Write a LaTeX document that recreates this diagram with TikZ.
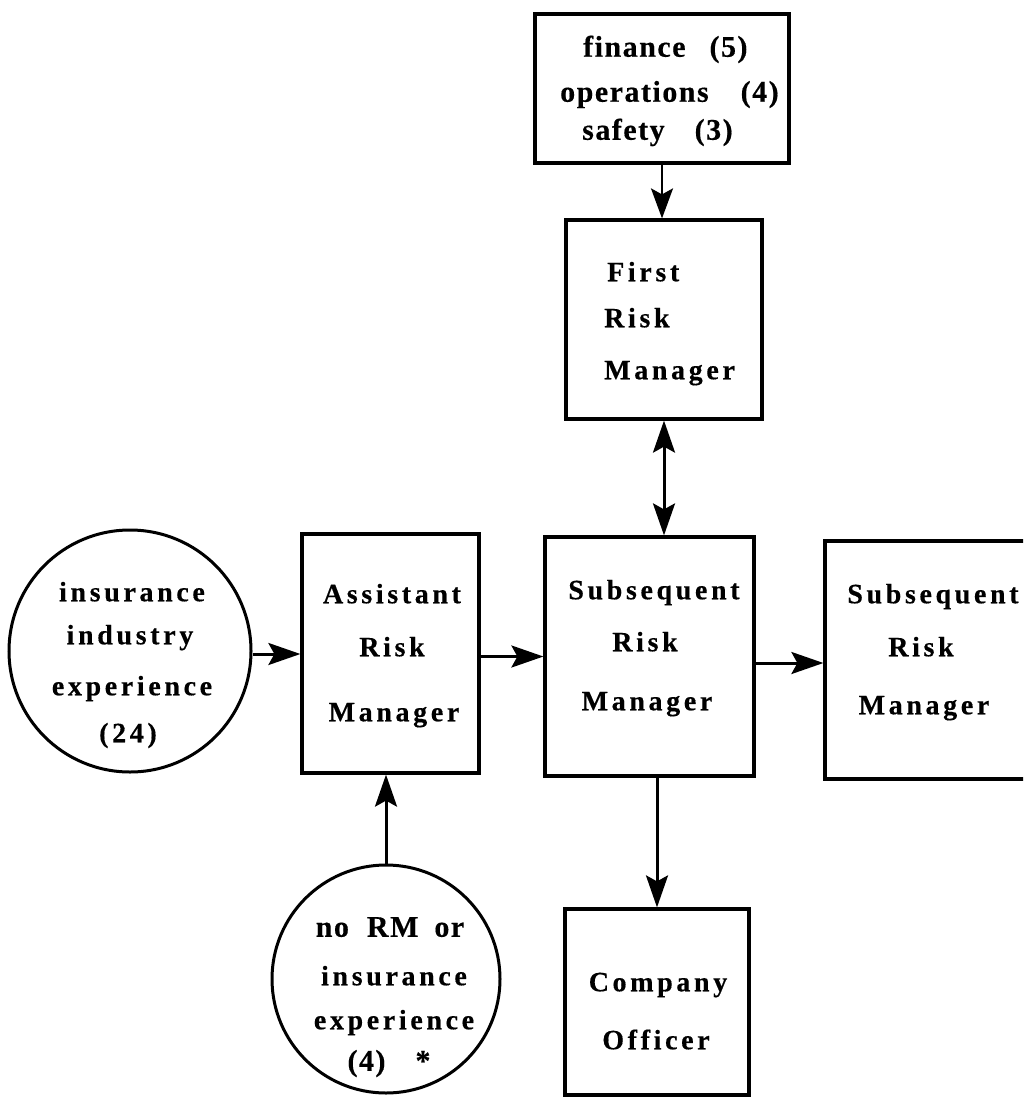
\documentclass[tikz,border=0pt]{standalone}
\usepackage{fontspec}
\setmainfont{Liberation Serif}
\newfontfamily\spfont[LetterSpace=13,FakeBold=0.4]{Liberation Serif}
\newfontfamily\tpfont[LetterSpace=5,FakeBold=0.4]{Liberation Serif}
\usetikzlibrary{arrows.meta}
\begin{document}
\begin{tikzpicture}[x=1pt,y=-1pt,
  box/.style={draw, line width=3.2pt, inner sep=0pt},
  ring/.style={draw, circle, line width=3pt, inner sep=0pt},
  lbl/.style={font=\spfont\bfseries\fontsize{28}{28}\selectfont, text height=18.5pt, text depth=0pt, inner sep=0pt},
  tlbl/.style={font=\tpfont\bfseries\fontsize{30}{30}\selectfont, text height=19.5pt, text depth=0pt, inner sep=0pt},
  arr/.style={line width=3pt, -{Stealth[length=32pt,width=22pt,inset=6pt]}},
  darr/.style={line width=3pt, {Stealth[length=32pt,width=22pt,inset=6pt]}-{Stealth[length=32pt,width=22pt,inset=6pt]}},
  thinarr/.style={line width=2.2pt, -{Stealth[length=30pt,width=22pt,inset=6pt]}}]
\useasboundingbox (0,0) rectangle (1023,1097);
\clip (0,0) rectangle (1023,1097);

% boxes
\node[box, minimum width=254pt, minimum height=149pt] (tb) at (662,88.5) {};
\node[box, minimum width=196pt, minimum height=199pt] (fr) at (664,319.5) {};
\node[box, minimum width=177pt, minimum height=239pt] (ar) at (390.5,653.5) {};
\node[box, minimum width=209pt, minimum height=239pt] (sr) at (649.5,656.5) {};
\node[box, minimum width=235pt, minimum height=238pt] (rr) at (942.5,660) {};
\node[box, minimum width=184pt, minimum height=186pt] (co) at (657,1002) {};
\node[ring, minimum size=242pt] (lc) at (130,651) {};
\node[ring, minimum size=228pt] (bc) at (386,979) {};

% top box text
\node[tlbl, anchor=west] (tb1) at (583,47) {finance\hspace{24pt}(5)};
\node[tlbl, anchor=west] (tb2) at (560,92) {operations\hspace{32pt}(4)};
\node[tlbl, anchor=west] (tb3) at (582,130) {safety\hspace{30pt}(3)};

% first risk manager
\node[lbl, anchor=west] (fr1) at (607,272) {First};
\node[lbl, anchor=west] (fr2) at (604,318) {Risk};
\node[lbl, anchor=west] (fr3) at (604,370) {Manager};

% assistant
\node[lbl] (ar1) at (392,594) {Assistant};
\node[lbl] (ar2) at (392,647) {Risk};
\node[lbl] (ar3) at (394,712) {Manager};

% subsequent middle
\node[lbl] (sr1) at (654,590) {Subsequent};
\node[lbl] (sr2) at (645,642) {Risk};
\node[lbl] (sr3) at (647,701) {Manager};

% subsequent right
\node[lbl] (rr1) at (933,594) {Subsequent};
\node[lbl] (rr2) at (921,647) {Risk};
\node[lbl] (rr3) at (924,705) {Manager};

% left circle
\node[lbl] (lc1) at (132,592) {insurance};
\node[lbl] (lc2) at (130,635) {industry};
\node[lbl] (lc3) at (132,686) {experience};
\node[lbl] (lc4) at (128,733) {(24)};

% bottom circle
\node[tlbl] (bc1) at (390,927) {no\hspace{18pt}RM\hspace{16pt}or};
\node[lbl] (bc2) at (394,976) {insurance};
\node[lbl] (bc3) at (394,1020) {experience};
\node[tlbl] (bc4) at (389,1061) {(4)\hspace{30pt}*};

% company officer
\node[lbl] (co1) at (658,982) {Company};
\node[lbl] (co2) at (656,1040) {Officer};

% connectors
\draw[thinarr] (tb.south) -- (tb.south |- fr.north);
\draw[darr] (fr.south) -- (fr.south |- sr.north);
\draw[arr] ([yshift=-3pt]lc.east) -- ([yshift=-3pt]lc.east -| ar.west);
\draw[arr] ([yshift=-3pt]ar.east) -- ([yshift=-3pt]ar.east -| sr.west);
\draw[arr] ([yshift=-6.5pt]sr.east) -- ([yshift=-6.5pt]sr.east -| rr.west);
\draw[arr] (bc.north) -- (bc.north |- ar.south);
\draw[arr] (co.north |- sr.south) -- (co.north);
\end{tikzpicture}
\end{document}
